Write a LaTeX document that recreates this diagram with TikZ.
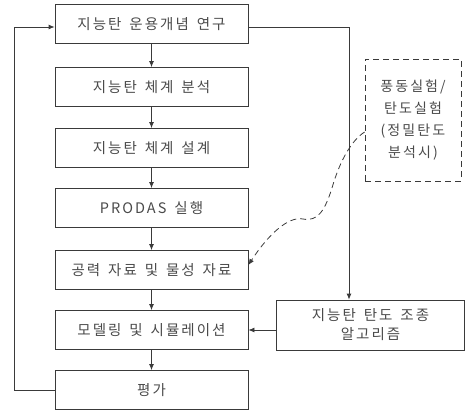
\documentclass[tikz,border=0pt]{standalone}
\usepackage{fontspec}
\setmainfont{Noto Sans CJK KR}
\newfontfamily\spaced[LetterSpace=14,WordSpace=1.5]{Noto Sans CJK KR}
\newfontfamily\spacedd[LetterSpace=15]{Noto Sans CJK KR}
\usetikzlibrary{arrows.meta}
\definecolor{ln}{HTML}{3A3A3A}
\definecolor{tx}{HTML}{4A4A4A}
\begin{document}
\begin{tikzpicture}[x=1pt,y=-1pt,
  box/.style={draw=ln, line width=0.8pt, minimum width=193pt, minimum height=39pt, inner sep=0pt, text=tx, font=\spaced\fontsize{14.5}{16}\selectfont},
  arr/.style={draw=ln, line width=0.8pt, -{Latex[length=6pt,width=5pt]}},
  dash6/.style={dash pattern=on 6pt off 4pt},
  sidebox/.style={draw=ln, line width=0.8pt, minimum width=188pt, minimum height=50pt, inner sep=0pt, text=tx, align=center, font=\spaced\fontsize{14.5}{19}\selectfont},
  dbox/.style={draw=ln, line width=0.8pt, dash6, minimum width=96pt, minimum height=122pt, inner sep=0pt, text=tx, align=center, font=\spacedd\fontsize{14}{22}\selectfont}]
\useasboundingbox (0,0) rectangle (465,411);
\node[box] (b1) at (151.5,24) {지능탄 운용개념 연구};
\node[box] (b2) at (151.5,87) {지능탄 체계 분석};
\node[box] (b3) at (151.5,148) {지능탄 체계 설계};
\node[box] (b4) at (151.5,208) {PRODAS 실행};
\node[box] (b5) at (151.5,270) {공력 자료 및 물성 자료};
\node[box] (b6) at (151.5,330) {모델링 및 시뮬레이션};
\node[box] (b7) at (151.5,390) {평가};
\node[sidebox] (alg) at (370.5,325) {지능탄 탄도 조종\\알고리즘};
\node[dbox] (exp) at (413,120) {풍동실험/\\탄도실험\\(정밀탄도\\분석시)};
\coordinate (lc) at (14,0);
\coordinate (rc) at (349,0);
\draw[arr] (b1) -- (b2);
\draw[arr] (b2) -- (b3);
\draw[arr] (b3) -- (b4);
\draw[arr] (b4) -- (b5);
\draw[arr] (b5) -- (b6);
\draw[arr] (b6) -- (b7);
\draw[arr] (b7.west) -| (lc |- b7.west) |- ([yshift=-3pt]b1.west);
\draw[arr] ([yshift=-3pt]b1.east) -| (rc |- alg.north);
\draw[arr] (alg.west |- b6.east) -- (b6.east);
\draw[arr, dash6] (exp.west |- 0,132) .. controls (352,140) and (340,160) .. (332,188)
  .. controls (325,210) and (318,222) .. (303,219)
  .. controls (288,216) and (268,235) .. ([yshift=5pt]b5.east);
\end{tikzpicture}
\end{document}
